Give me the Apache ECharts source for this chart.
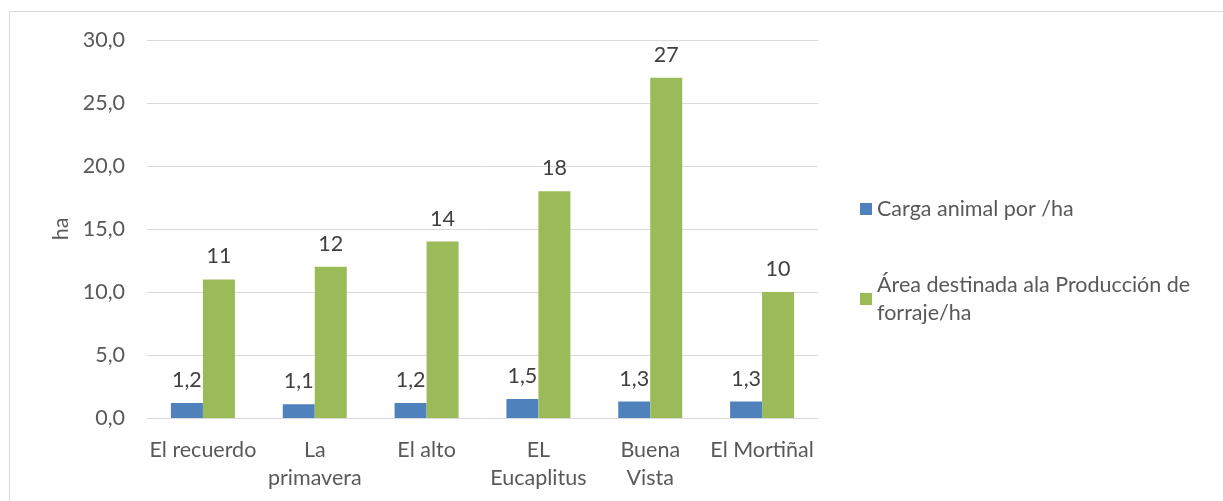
<!DOCTYPE html>
<html><head><meta charset="utf-8">
<script src="https://cdn.jsdelivr.net/npm/echarts@6/dist/echarts.min.js"></script>
<style>html,body{margin:0;padding:0;background:#fff}#c{width:1223px;height:501px}</style>
</head><body><div id="c"></div>
<script>
const categories = ["El recuerdo", "La\nprimavera", "El alto", "EL\nEucaplitus", "Buena\nVista", "El Mortiñal"];
const seriesNames = ["Carga animal por /ha", "Área destinada ala Producción de forraje/ha"];
const cargaAnimal = [1.2, 1.1, 1.2, 1.5, 1.3, 1.3];
const areaForraje = [11, 12, 14, 18, 27, 10];
const yTicks = {min: 0, max: 30, interval: 5};

const FONT = "Lato";
const FS = 21.5;
const chart = echarts.init(document.getElementById('c'), null, {renderer: 'canvas'});
const fmtComma = v => v.toFixed(1).replace('.', ',');
chart.setOption({
  animation: false,
  backgroundColor: '#fff',
  textStyle: {fontFamily: FONT},
  graphic: [{type: 'rect', shape: {x: 9.5, y: 11.5, width: 1300, height: 600}, style: {fill: 'none', stroke: '#d9d9d9', lineWidth: 1}, silent: true}],
  grid: {left: 147, right: 405, top: 40, bottom: 83},
  legend: {
    orient: 'vertical', left: 860, top: 195, padding: 0, itemWidth: 12, itemHeight: 12, itemGap: 34,
    icon: 'rect',
    textStyle: {fontFamily: FONT, fontSize: FS, color: '#595959', lineHeight: 28, width: 340, overflow: 'break'},
    data: [
      {name: seriesNames[0]},
      {name: seriesNames[1], textStyle: {padding: [28, 0, 0, 0]}}
    ]
  },
  xAxis: {
    type: 'category', data: categories,
    axisLine: {lineStyle: {color: '#d9d9d9', width: 1}},
    axisTick: {show: false},
    axisLabel: {fontFamily: FONT, fontSize: FS, color: '#595959', lineHeight: 28, margin: 18, interval: 0}
  },
  yAxis: {
    type: 'value', min: yTicks.min, max: yTicks.max, interval: yTicks.interval,
    name: 'ha', nameLocation: 'middle', nameGap: 74, nameRotate: 90,
    nameTextStyle: {fontFamily: FONT, fontSize: FS, color: '#595959'},
    axisLine: {show: false}, axisTick: {show: false},
    axisLabel: {fontFamily: FONT, fontSize: FS, color: '#595959', margin: 22, formatter: fmtComma},
    splitLine: {lineStyle: {color: '#d9d9d9', width: 1}}
  },
  series: [
    {name: seriesNames[0], type: 'bar', data: cargaAnimal, barWidth: 32, barGap: '0%',
     itemStyle: {color: '#4f81bd'},
     label: {show: true, position: 'top', distance: 12, fontFamily: FONT, fontSize: FS, color: '#404040', formatter: p => fmtComma(p.value)}},
    {name: seriesNames[1], type: 'bar', data: areaForraje, barWidth: 32, barGap: '0%',
     itemStyle: {color: '#9bbb59'},
     label: {show: true, position: 'top', distance: 12, fontFamily: FONT, fontSize: FS, color: '#404040', formatter: p => String(p.value)}}
  ]
});
</script></body></html>
